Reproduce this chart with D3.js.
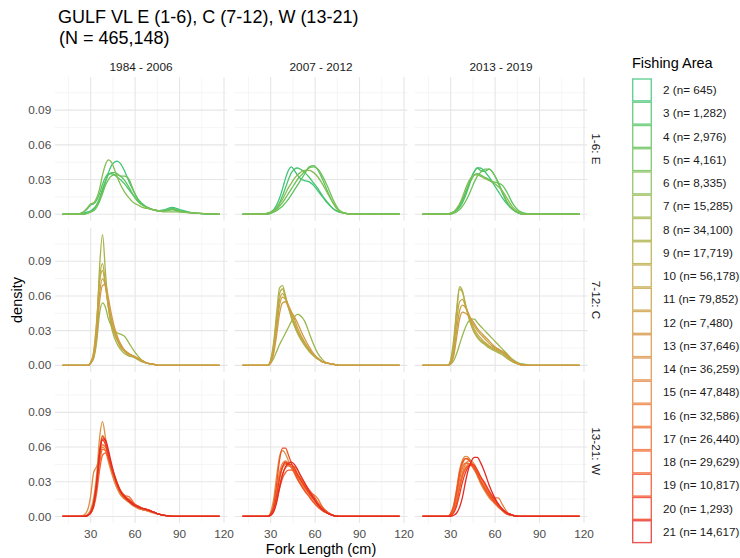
<!DOCTYPE html>
<html>
<head>
<meta charset="utf-8">
<script src="https://cdn.jsdelivr.net/npm/d3@7"></script>
<style>
    body { margin: 0; background: #fff; }
    text { font-family: 'Liberation Sans', Arial, sans-serif; }
</style>
</head>
<body>
<div class="main"></div>
<script>
var periods = ['1984 - 2006', '2007 - 2012', '2013 - 2019'];
var regions = ['1-6: E', '7-12: C', '13-21: W'];
var regionAreas = [[2, 3, 4, 5, 6], [7, 8, 9, 10, 11, 12], [13, 14, 15, 16, 17, 18, 19, 20, 21]];

var areas = [2, 3, 4, 5, 6, 7, 8, 9, 10, 11, 12, 13, 14, 15, 16, 17, 18, 19, 20, 21];
var areaCounts = [645, 1282, 2976, 4161, 8335, 15285, 34100, 17719, 56178, 79852,
    7480, 37646, 36259, 47848, 32586, 26440, 29629, 10817, 1293, 14617];
var areaColors = ['#3dc47a', '#4cc46a', '#5cc35e', '#6fc157', '#84bd52', '#98b84e', '#a8b34a',
    '#b5ae46', '#c0a843', '#c8a242', '#d09b44', '#d89446', '#e08c44', '#e78440', '#ec7a3a',
    '#ef6e33', '#f2612c', '#f34f24', '#f03c1f', '#e32b26'];

var xTicks = [30, 60, 90, 120];
var xMinor = [15, 45, 75, 105];
var yTicks = [0, 0.03, 0.06, 0.09];
var yMinor = [0.015, 0.045, 0.075, 0.105];

// fork length (cm) where each density curve is sampled
var forkLength = [11, 20, 25, 28, 30, 32, 34, 36, 38, 40, 42, 44, 46, 48, 50,
    53, 56, 59, 62, 65, 68, 72, 76, 80, 85, 90, 100, 117];

// East, areas 2-6
var densE1984 = [
    [0, 0, 0.001, 0.002, 0.003, 0.005, 0.008, 0.013, 0.020, 0.028, 0.036, 0.042, 0.045, 0.046, 0.044, 0.037, 0.028, 0.020, 0.013, 0.009, 0.006, 0.004, 0.003, 0.004, 0.006, 0.004, 0.001, 0],
    [0, 0, 0.002, 0.005, 0.008, 0.009, 0.012, 0.018, 0.026, 0.032, 0.035, 0.035, 0.034, 0.032, 0.030, 0.026, 0.021, 0.016, 0.011, 0.008, 0.006, 0.004, 0.003, 0.003, 0.004, 0.003, 0.001, 0],
    [0, 0, 0, 0.001, 0.002, 0.004, 0.008, 0.014, 0.022, 0.029, 0.034, 0.036, 0.036, 0.035, 0.033, 0.029, 0.023, 0.016, 0.011, 0.008, 0.006, 0.004, 0.003, 0.003, 0.005, 0.003, 0.001, 0],
    [0, 0, 0, 0.001, 0.002, 0.003, 0.006, 0.011, 0.018, 0.025, 0.030, 0.033, 0.034, 0.034, 0.033, 0.033, 0.030, 0.020, 0.012, 0.008, 0.006, 0.004, 0.003, 0.003, 0.004, 0.002, 0.001, 0],
    [0, 0, 0.002, 0.006, 0.009, 0.010, 0.014, 0.022, 0.034, 0.043, 0.047, 0.045, 0.039, 0.032, 0.026, 0.019, 0.014, 0.010, 0.008, 0.006, 0.005, 0.004, 0.003, 0.002, 0.002, 0.002, 0.001, 0]
];
var densE2007 = [
    [0, 0, 0, 0.001, 0.002, 0.004, 0.008, 0.014, 0.022, 0.031, 0.038, 0.041, 0.038, 0.034, 0.031, 0.029, 0.028, 0.025, 0.020, 0.015, 0.010, 0.005, 0.002, 0.001, 0, 0, 0, 0],
    [0, 0, 0, 0.001, 0.001, 0.003, 0.006, 0.010, 0.016, 0.023, 0.030, 0.036, 0.039, 0.040, 0.039, 0.036, 0.032, 0.027, 0.022, 0.016, 0.011, 0.005, 0.002, 0.001, 0, 0, 0, 0],
    [0, 0, 0, 0, 0.001, 0.002, 0.003, 0.005, 0.007, 0.010, 0.013, 0.017, 0.021, 0.025, 0.029, 0.035, 0.041, 0.042, 0.038, 0.030, 0.021, 0.010, 0.003, 0.001, 0, 0, 0, 0],
    [0, 0, 0, 0, 0.001, 0.002, 0.004, 0.007, 0.010, 0.014, 0.018, 0.022, 0.026, 0.030, 0.033, 0.037, 0.040, 0.041, 0.039, 0.033, 0.025, 0.013, 0.004, 0.001, 0, 0, 0, 0],
    [0, 0, 0, 0.001, 0.002, 0.003, 0.005, 0.009, 0.013, 0.018, 0.023, 0.027, 0.031, 0.034, 0.036, 0.038, 0.038, 0.036, 0.032, 0.026, 0.019, 0.010, 0.003, 0.001, 0, 0, 0, 0]
];
var densE2013 = [
    [0, 0, 0, 0, 0.001, 0.002, 0.004, 0.007, 0.012, 0.018, 0.025, 0.032, 0.037, 0.040, 0.040, 0.037, 0.032, 0.026, 0.020, 0.014, 0.009, 0.004, 0.001, 0, 0, 0, 0, 0],
    [0, 0, 0, 0, 0.001, 0.002, 0.003, 0.006, 0.010, 0.016, 0.023, 0.031, 0.037, 0.040, 0.038, 0.037, 0.039, 0.035, 0.027, 0.018, 0.010, 0.004, 0.001, 0, 0, 0, 0, 0],
    [0, 0, 0, 0, 0.001, 0.002, 0.004, 0.008, 0.013, 0.019, 0.025, 0.030, 0.034, 0.035, 0.034, 0.032, 0.030, 0.028, 0.027, 0.025, 0.019, 0.009, 0.003, 0.001, 0, 0, 0, 0],
    [0, 0, 0, 0, 0, 0.001, 0.002, 0.004, 0.007, 0.011, 0.016, 0.022, 0.028, 0.033, 0.036, 0.039, 0.039, 0.035, 0.028, 0.019, 0.011, 0.004, 0.001, 0, 0, 0, 0, 0],
    [0, 0, 0, 0, 0.001, 0.002, 0.005, 0.009, 0.015, 0.022, 0.028, 0.032, 0.034, 0.034, 0.033, 0.031, 0.029, 0.027, 0.024, 0.020, 0.014, 0.006, 0.002, 0, 0, 0, 0, 0]
];

// Central, areas 7-12
var densC1984 = [
    [0, 0, 0, 0, 0.002, 0.006, 0.020, 0.045, 0.054, 0.050, 0.040, 0.034, 0.030, 0.028, 0.027, 0.025, 0.019, 0.013, 0.008, 0.004, 0.002, 0.001, 0, 0, 0, 0, 0, 0],
    [0, 0, 0, 0, 0.002, 0.008, 0.030, 0.085, 0.113, 0.080, 0.050, 0.033, 0.024, 0.018, 0.014, 0.010, 0.008, 0.007, 0.005, 0.003, 0.002, 0.001, 0, 0, 0, 0, 0, 0],
    [0, 0, 0, 0, 0.002, 0.010, 0.035, 0.075, 0.088, 0.070, 0.050, 0.036, 0.027, 0.021, 0.016, 0.012, 0.009, 0.007, 0.005, 0.003, 0.002, 0.001, 0, 0, 0, 0, 0, 0],
    [0, 0, 0, 0, 0.003, 0.012, 0.038, 0.072, 0.082, 0.068, 0.050, 0.037, 0.028, 0.022, 0.017, 0.012, 0.009, 0.008, 0.006, 0.004, 0.002, 0.001, 0, 0, 0, 0, 0, 0],
    [0, 0, 0, 0, 0.002, 0.009, 0.030, 0.062, 0.075, 0.068, 0.053, 0.040, 0.031, 0.024, 0.018, 0.013, 0.010, 0.008, 0.006, 0.004, 0.002, 0.001, 0, 0, 0, 0, 0, 0],
    [0, 0, 0, 0, 0.002, 0.007, 0.024, 0.055, 0.069, 0.070, 0.058, 0.044, 0.033, 0.025, 0.019, 0.013, 0.010, 0.008, 0.006, 0.004, 0.002, 0.001, 0, 0, 0, 0, 0, 0]
];
var densC2007 = [
    [0, 0, 0, 0, 0.002, 0.006, 0.012, 0.018, 0.023, 0.028, 0.033, 0.038, 0.042, 0.044, 0.043, 0.038, 0.028, 0.018, 0.010, 0.005, 0.002, 0.001, 0, 0, 0, 0, 0, 0],
    [0, 0, 0, 0, 0.005, 0.020, 0.045, 0.067, 0.069, 0.060, 0.050, 0.041, 0.034, 0.028, 0.023, 0.017, 0.012, 0.008, 0.005, 0.003, 0.002, 0.001, 0, 0, 0, 0, 0, 0],
    [0, 0, 0, 0, 0.004, 0.017, 0.040, 0.062, 0.066, 0.059, 0.050, 0.042, 0.035, 0.029, 0.024, 0.018, 0.013, 0.009, 0.006, 0.003, 0.002, 0.001, 0, 0, 0, 0, 0, 0],
    [0, 0, 0, 0, 0.004, 0.015, 0.036, 0.057, 0.062, 0.058, 0.051, 0.044, 0.037, 0.030, 0.025, 0.019, 0.013, 0.009, 0.006, 0.003, 0.002, 0.001, 0, 0, 0, 0, 0, 0],
    [0, 0, 0, 0, 0.003, 0.013, 0.032, 0.052, 0.059, 0.057, 0.052, 0.046, 0.040, 0.033, 0.027, 0.020, 0.014, 0.009, 0.006, 0.003, 0.002, 0.001, 0, 0, 0, 0, 0, 0],
    [0, 0, 0, 0, 0.002, 0.010, 0.026, 0.045, 0.054, 0.055, 0.050, 0.046, 0.042, 0.037, 0.031, 0.023, 0.016, 0.010, 0.006, 0.003, 0.002, 0.001, 0, 0, 0, 0, 0, 0]
];
var densC2013 = [
    [0, 0, 0, 0, 0.001, 0.004, 0.010, 0.018, 0.026, 0.033, 0.038, 0.040, 0.040, 0.037, 0.034, 0.030, 0.026, 0.022, 0.018, 0.014, 0.010, 0.005, 0.002, 0.001, 0, 0, 0, 0],
    [0, 0, 0, 0, 0.005, 0.022, 0.048, 0.068, 0.064, 0.052, 0.042, 0.034, 0.028, 0.024, 0.021, 0.018, 0.015, 0.013, 0.011, 0.009, 0.006, 0.003, 0.001, 0, 0, 0, 0, 0],
    [0, 0, 0, 0, 0.004, 0.018, 0.046, 0.066, 0.063, 0.053, 0.043, 0.035, 0.029, 0.025, 0.022, 0.019, 0.016, 0.014, 0.012, 0.010, 0.007, 0.003, 0.001, 0, 0, 0, 0, 0],
    [0, 0, 0, 0, 0.003, 0.014, 0.038, 0.055, 0.057, 0.051, 0.044, 0.037, 0.031, 0.027, 0.024, 0.020, 0.017, 0.015, 0.013, 0.011, 0.008, 0.004, 0.001, 0, 0, 0, 0, 0],
    [0, 0, 0, 0, 0.002, 0.010, 0.030, 0.047, 0.052, 0.050, 0.045, 0.039, 0.034, 0.030, 0.027, 0.023, 0.019, 0.016, 0.014, 0.012, 0.009, 0.004, 0.001, 0, 0, 0, 0, 0],
    [0, 0, 0, 0, 0.002, 0.008, 0.024, 0.040, 0.046, 0.045, 0.043, 0.040, 0.036, 0.032, 0.029, 0.025, 0.021, 0.017, 0.014, 0.012, 0.009, 0.004, 0.001, 0, 0, 0, 0, 0]
];

// West, areas 13-21
var densW1984 = [
    [0, 0, 0, 0.002, 0.006, 0.016, 0.036, 0.068, 0.082, 0.068, 0.052, 0.040, 0.031, 0.024, 0.019, 0.015, 0.012, 0.009, 0.007, 0.006, 0.005, 0.004, 0.002, 0.001, 0, 0, 0, 0],
    [0, 0, 0.001, 0.006, 0.018, 0.038, 0.043, 0.050, 0.060, 0.057, 0.047, 0.038, 0.030, 0.024, 0.019, 0.015, 0.012, 0.009, 0.007, 0.006, 0.005, 0.003, 0.002, 0.001, 0, 0, 0, 0],
    [0, 0, 0, 0.001, 0.004, 0.012, 0.030, 0.058, 0.070, 0.064, 0.053, 0.042, 0.033, 0.026, 0.021, 0.016, 0.013, 0.010, 0.008, 0.006, 0.005, 0.004, 0.002, 0.001, 0, 0, 0, 0],
    [0, 0, 0, 0.001, 0.004, 0.011, 0.027, 0.050, 0.062, 0.060, 0.052, 0.043, 0.035, 0.028, 0.022, 0.017, 0.015, 0.011, 0.008, 0.006, 0.005, 0.004, 0.002, 0.001, 0, 0, 0, 0],
    [0, 0, 0, 0.001, 0.003, 0.009, 0.024, 0.046, 0.058, 0.057, 0.050, 0.042, 0.035, 0.028, 0.022, 0.018, 0.017, 0.012, 0.008, 0.006, 0.006, 0.004, 0.002, 0.001, 0, 0, 0, 0],
    [0, 0, 0, 0.001, 0.003, 0.008, 0.020, 0.040, 0.053, 0.055, 0.050, 0.043, 0.036, 0.029, 0.023, 0.018, 0.014, 0.011, 0.009, 0.007, 0.006, 0.004, 0.002, 0.001, 0, 0, 0, 0],
    [0, 0, 0, 0.001, 0.003, 0.010, 0.028, 0.056, 0.069, 0.065, 0.054, 0.043, 0.034, 0.027, 0.021, 0.016, 0.013, 0.010, 0.008, 0.007, 0.006, 0.004, 0.002, 0.001, 0, 0, 0, 0],
    [0, 0, 0, 0.001, 0.004, 0.012, 0.030, 0.055, 0.066, 0.062, 0.052, 0.042, 0.034, 0.027, 0.022, 0.017, 0.014, 0.011, 0.009, 0.007, 0.006, 0.004, 0.002, 0.001, 0, 0, 0, 0],
    [0, 0, 0, 0.001, 0.003, 0.010, 0.027, 0.054, 0.067, 0.066, 0.057, 0.046, 0.036, 0.028, 0.022, 0.017, 0.013, 0.010, 0.008, 0.007, 0.006, 0.004, 0.002, 0.001, 0, 0, 0, 0]
];
var densW2007 = [
    [0, 0, 0, 0, 0.004, 0.015, 0.035, 0.052, 0.057, 0.054, 0.048, 0.042, 0.037, 0.032, 0.028, 0.023, 0.018, 0.013, 0.009, 0.005, 0.003, 0.001, 0, 0, 0, 0, 0, 0],
    [0, 0, 0, 0, 0.002, 0.008, 0.020, 0.034, 0.042, 0.045, 0.044, 0.043, 0.043, 0.040, 0.035, 0.028, 0.021, 0.015, 0.010, 0.006, 0.003, 0.001, 0, 0, 0, 0, 0, 0],
    [0, 0, 0, 0, 0.002, 0.009, 0.023, 0.038, 0.046, 0.048, 0.046, 0.043, 0.039, 0.035, 0.031, 0.025, 0.020, 0.015, 0.011, 0.007, 0.004, 0.001, 0, 0, 0, 0, 0, 0],
    [0, 0, 0, 0, 0.002, 0.008, 0.020, 0.034, 0.043, 0.046, 0.045, 0.042, 0.038, 0.033, 0.029, 0.024, 0.020, 0.019, 0.015, 0.008, 0.004, 0.001, 0, 0, 0, 0, 0, 0],
    [0, 0, 0, 0, 0.001, 0.005, 0.014, 0.027, 0.037, 0.042, 0.044, 0.043, 0.040, 0.036, 0.032, 0.026, 0.021, 0.016, 0.011, 0.007, 0.004, 0.001, 0, 0, 0, 0, 0, 0],
    [0, 0, 0, 0, 0.001, 0.005, 0.013, 0.024, 0.033, 0.038, 0.040, 0.040, 0.039, 0.036, 0.033, 0.028, 0.023, 0.018, 0.012, 0.008, 0.004, 0.001, 0, 0, 0, 0, 0, 0],
    [0, 0, 0, 0, 0.002, 0.010, 0.028, 0.049, 0.059, 0.059, 0.053, 0.046, 0.039, 0.033, 0.028, 0.022, 0.017, 0.012, 0.008, 0.005, 0.003, 0.001, 0, 0, 0, 0, 0, 0],
    [0, 0, 0, 0, 0.002, 0.007, 0.018, 0.033, 0.043, 0.047, 0.045, 0.045, 0.042, 0.037, 0.032, 0.026, 0.020, 0.015, 0.010, 0.006, 0.003, 0.001, 0, 0, 0, 0, 0, 0],
    [0, 0, 0, 0, 0.001, 0.004, 0.012, 0.025, 0.036, 0.043, 0.046, 0.047, 0.045, 0.041, 0.036, 0.029, 0.022, 0.016, 0.010, 0.006, 0.003, 0.001, 0, 0, 0, 0, 0, 0]
];
var densW2013 = [
    [0, 0, 0, 0, 0.002, 0.008, 0.020, 0.035, 0.045, 0.050, 0.050, 0.047, 0.042, 0.036, 0.030, 0.023, 0.017, 0.013, 0.010, 0.006, 0.003, 0.001, 0, 0, 0, 0, 0, 0],
    [0, 0, 0, 0, 0.003, 0.010, 0.024, 0.040, 0.049, 0.052, 0.051, 0.047, 0.041, 0.035, 0.029, 0.022, 0.016, 0.012, 0.008, 0.005, 0.002, 0.001, 0, 0, 0, 0, 0, 0],
    [0, 0, 0, 0, 0.001, 0.005, 0.014, 0.027, 0.038, 0.045, 0.048, 0.048, 0.045, 0.040, 0.035, 0.027, 0.020, 0.014, 0.009, 0.005, 0.002, 0.001, 0, 0, 0, 0, 0, 0],
    [0, 0, 0, 0, 0.001, 0.005, 0.014, 0.026, 0.036, 0.042, 0.045, 0.045, 0.042, 0.037, 0.032, 0.025, 0.019, 0.016, 0.016, 0.010, 0.004, 0.001, 0, 0, 0, 0, 0, 0],
    [0, 0, 0, 0, 0.002, 0.007, 0.018, 0.032, 0.042, 0.046, 0.046, 0.044, 0.040, 0.036, 0.031, 0.025, 0.019, 0.014, 0.010, 0.006, 0.003, 0.001, 0, 0, 0, 0, 0, 0],
    [0, 0, 0, 0, 0.001, 0.004, 0.012, 0.024, 0.035, 0.041, 0.044, 0.044, 0.042, 0.038, 0.034, 0.028, 0.021, 0.015, 0.010, 0.006, 0.003, 0.001, 0, 0, 0, 0, 0, 0],
    [0, 0, 0, 0, 0.002, 0.009, 0.022, 0.038, 0.047, 0.050, 0.049, 0.046, 0.042, 0.037, 0.031, 0.024, 0.018, 0.013, 0.009, 0.005, 0.002, 0.001, 0, 0, 0, 0, 0, 0],
    [0, 0, 0, 0, 0.001, 0.003, 0.009, 0.019, 0.030, 0.038, 0.043, 0.045, 0.044, 0.040, 0.035, 0.029, 0.022, 0.016, 0.011, 0.006, 0.003, 0.001, 0, 0, 0, 0, 0, 0],
    [0, 0, 0, 0, 0, 0.001, 0.003, 0.008, 0.017, 0.030, 0.041, 0.048, 0.051, 0.051, 0.047, 0.038, 0.027, 0.018, 0.011, 0.006, 0.003, 0.001, 0, 0, 0, 0, 0, 0]
];

var panelDensity = [
    [densE1984, densE2007, densE2013],
    [densC1984, densC2007, densC2013],
    [densW1984, densW2007, densW2013]
];

var options = {
    'width': 740,
    'height': 558,
    'left': 54.7,
    'top': 77,
    'panelW': 172.7,
    'panelH': 143.8,
    'gap': 7.3,
};

var svg = d3.select('.main')
    .append('svg')
    .attr('width', options.width)
    .attr('height', options.height);

// shared scales, ggplot style 5% expansion
var xExt = d3.extent(forkLength);
var xPad = (xExt[1] - xExt[0]) * 0.05;
var x = d3.scaleLinear()
    .domain([xExt[0] - xPad, xExt[1] + xPad])
    .range([0, options.panelW]);

var yMax = d3.max(panelDensity, function (row) {
    return d3.max(row, function (p) {
        return d3.max(p, function (c) { return d3.max(c); });
    });
});
var y = d3.scaleLinear()
    .domain([-yMax * 0.05, yMax * 1.05])
    .range([options.panelH, 0]);

var colorOf = d3.scaleOrdinal().domain(areas).range(areaColors);

var line = d3.line()
    .x(function (d, i) { return x(forkLength[i]); })
    .y(function (d) { return y(d); })
    .curve(d3.curveMonotoneX);

var grey = '#4d4d4d';

// title
svg.append('text')
    .attr('x', 58)
    .attr('y', 23)
    .style('font-size', '18px')
    .style('fill', '#000')
    .text('GULF VL E (1-6), C (7-12), W (13-21)');
svg.append('text')
    .attr('x', 59)
    .attr('y', 44)
    .style('font-size', '18px')
    .style('fill', '#000')
    .text('(N = 465,148)');

regions.forEach(function (region, r) {
    periods.forEach(function (period, c) {
        var px = options.left + c * (options.panelW + options.gap);
        var py = options.top + r * (options.panelH + options.gap);
        var g = svg.append('g')
            .attr('transform', 'translate(' + [px, py] + ')');

        // minor grid
        g.selectAll('.xminor')
            .data(xMinor)
            .enter()
            .append('line')
            .attr('x1', function (d) { return x(d); })
            .attr('x2', function (d) { return x(d); })
            .attr('y1', 0)
            .attr('y2', options.panelH)
            .style('stroke', '#f1f1f1')
            .style('stroke-width', 0.7);
        g.selectAll('.yminor')
            .data(yMinor)
            .enter()
            .append('line')
            .attr('x1', 0)
            .attr('x2', options.panelW)
            .attr('y1', function (d) { return y(d); })
            .attr('y2', function (d) { return y(d); })
            .style('stroke', '#f1f1f1')
            .style('stroke-width', 0.7);

        // major grid
        g.selectAll('.xmajor')
            .data(xTicks)
            .enter()
            .append('line')
            .attr('x1', function (d) { return x(d); })
            .attr('x2', function (d) { return x(d); })
            .attr('y1', 0)
            .attr('y2', options.panelH)
            .style('stroke', '#e6e6e6')
            .style('stroke-width', 1.1);
        g.selectAll('.ymajor')
            .data(yTicks)
            .enter()
            .append('line')
            .attr('x1', 0)
            .attr('x2', options.panelW)
            .attr('y1', function (d) { return y(d); })
            .attr('y2', function (d) { return y(d); })
            .style('stroke', '#e6e6e6')
            .style('stroke-width', 1.1);

        // one density curve per fishing area
        g.selectAll('.curve')
            .data(panelDensity[r][c])
            .enter()
            .append('path')
            .attr('class', 'curve')
            .attr('d', line)
            .style('fill', 'none')
            .style('stroke', function (d, i) { return colorOf(regionAreas[r][i]); })
            .style('stroke-width', 1.3);

        if (r === 0) {
            g.append('text')
                .attr('x', options.panelW / 2)
                .attr('y', -6)
                .attr('text-anchor', 'middle')
                .style('font-size', '11.8px')
                .style('fill', '#1a1a1a')
                .text(period);
        }
        if (c === 0) {
            g.selectAll('.ylab')
                .data(yTicks)
                .enter()
                .append('text')
                .attr('x', -3.5)
                .attr('y', function (d) { return y(d); })
                .attr('dy', '0.35em')
                .attr('text-anchor', 'end')
                .style('font-size', '11.8px')
                .style('fill', grey)
                .text(d3.format('.2f'));
        }
        if (r === regions.length - 1) {
            g.selectAll('.xlab')
                .data(xTicks)
                .enter()
                .append('text')
                .attr('x', function (d) { return x(d); })
                .attr('y', options.panelH + 15)
                .attr('text-anchor', 'middle')
                .style('font-size', '11.8px')
                .style('fill', grey)
                .text(function (d) { return d; });
        }
        if (c === periods.length - 1) {
            g.append('text')
                .attr('transform', 'translate(' + [options.panelW + 9, options.panelH / 2] + ') rotate(90)')
                .attr('text-anchor', 'middle')
                .attr('dy', '0.35em')
                .style('font-size', '11.8px')
                .style('fill', '#1a1a1a')
                .text(region);
        }
    });
});

var plotRight = options.left + 3 * options.panelW + 2 * options.gap;
var plotBottom = options.top + 3 * options.panelH + 2 * options.gap;

svg.append('text')
    .attr('x', (options.left + plotRight) / 2)
    .attr('y', plotBottom + 31)
    .attr('text-anchor', 'middle')
    .style('font-size', '14.5px')
    .style('fill', '#000')
    .text('Fork Length (cm)');

svg.append('text')
    .attr('transform', 'translate(' + [17, (options.top + plotBottom) / 2] + ') rotate(-90)')
    .attr('text-anchor', 'middle')
    .attr('dy', '0.35em')
    .style('font-size', '14.5px')
    .style('fill', '#000')
    .text('density');

// legend
var keyH = 23.25;
var legend = svg.append('g')
    .attr('transform', 'translate(' + [632, 78.3] + ')');

legend.append('text')
    .attr('x', 0)
    .attr('y', -10)
    .style('font-size', '14.5px')
    .style('fill', '#000')
    .text('Fishing Area');

var keys = legend.selectAll('.key')
    .data(areas)
    .enter()
    .append('g')
    .attr('class', 'key')
    .attr('transform', function (d, i) {
        return 'translate(0,' + (i * keyH) + ')';
    });

keys.append('rect')
    .attr('x', 0.7)
    .attr('y', 0.7)
    .attr('width', 18.6)
    .attr('height', keyH - 1.4)
    .style('fill', '#fff')
    .style('stroke', function (d) { return colorOf(d); })
    .style('stroke-opacity', 0.8)
    .style('stroke-width', 1.4);

keys.append('text')
    .attr('x', 31)
    .attr('y', keyH / 2)
    .attr('dy', '0.35em')
    .style('font-size', '11.7px')
    .style('fill', '#1a1a1a')
    .text(function (d, i) {
        return d + ' (n= ' + d3.format(',')(areaCounts[i]) + ')';
    });
</script>
</body>
</html>
